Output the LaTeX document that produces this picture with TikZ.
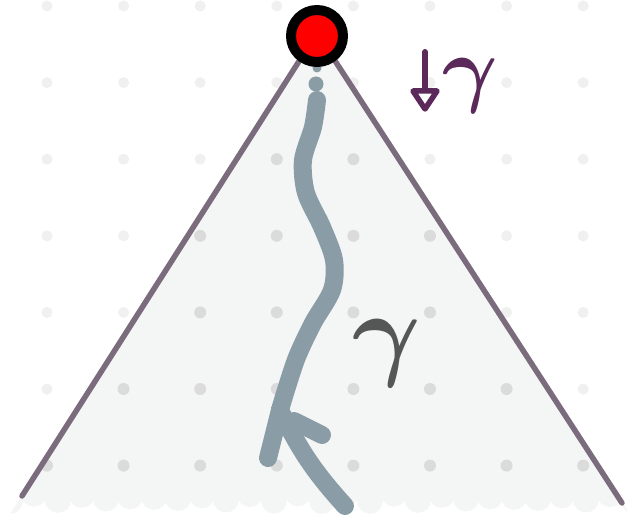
\documentclass[tikz,border=0pt]{standalone}
\usepackage{tikz}
\usetikzlibrary{arrows.meta}
\usepackage{amsmath}
\usepackage{bm}

\definecolor{conegray}{HTML}{7B6C7D}
\definecolor{conefill}{HTML}{F4F6F6}
\definecolor{trailgray}{HTML}{8A9CA6}
\definecolor{plum}{HTML}{5B2A5B}
\definecolor{slate}{HTML}{555757}

\begin{document}
\begin{tikzpicture}[x=1pt,y=-1pt,line cap=round,line join=round,
    coneline/.style={draw=conegray,line width=5.5pt},
    trail/.style={draw=trailgray,line width=18pt},
    griddot/.style={fill=black!6},
    innerdot/.style={fill=black!14}]
        \useasboundingbox[fill=white] (0,0) rectangle (633,519);
        \coordinate (apex) at (317,33);
        \coordinate (lefte) at (22,496);
        \coordinate (righte) at (622,503);
        % faint dots outside the cone
        \foreach \i in {0,...,7}
            \foreach \j in {0,...,6}
                \fill[griddot] (47+76.6*\i,6+76.6*\j) circle (5.5);
        % cone body
        \begin{scope}
            \clip (apex) -- (7,519) -- (633,519) -- cycle;
            \fill[conefill] (0,0) rectangle (633,496);
            \foreach \x in {10,34,...,640}
                \fill[conefill] (\x,{497+4*sin(7*\x)}) circle (13);
            \foreach \i in {0,...,7}
                \foreach \j in {0,...,6}
                    \fill[innerdot] (47+76.6*\i,6+76.6*\j) circle (6);
        \end{scope}
        \draw[coneline] (apex) -- (lefte);
        \draw[coneline] (apex) -- (righte);
        % the path
        \coordinate (start) at (317,100);
        \coordinate (tip) at (280,410);
        \coordinate (bottom) at (345,506);
        \coordinate (barbl) at (268,458);
        \coordinate (barbr0) at (294,421);
        \coordinate (barbr) at (322,435);
        \fill[trailgray] (317,68) circle (4.5);
        \fill[trailgray] (316,84) circle (7.5);
        \draw[trail] plot[smooth] coordinates {(317,100) (313,127) (303,160) (306,193) (322,227) (334,260) (332,290) (313,323) (297,357) (286,390) (280,410)};
        \draw[trail] (tip) to[bend right=8] (bottom);
        \draw[trail] (tip) -- (barbl);
        \draw[trail] (barbr0) -- (barbr);
        % event
        \node[circle,draw=black,line width=10pt,fill=red,minimum size=52pt,inner sep=0pt] (event) at (317,36) {};
        % labels
        \coordinate (downa) at (425,52);
        \coordinate (downb) at (425,90);
        \draw[plum,line width=6pt] (downa) -- (downb);
        \draw[plum,line width=5.5pt,fill=white] (413,91) -- (437,91) -- (425,109) -- cycle;
        \node[text=plum,scale=8.5,inner sep=0pt] (gtop) at (470,86) {$\bm{\gamma}$};
        \node[text=slate,scale=10.5,inner sep=0pt] (gmid) at (387,353) {$\bm{\gamma}$};
\end{tikzpicture}
\end{document}
